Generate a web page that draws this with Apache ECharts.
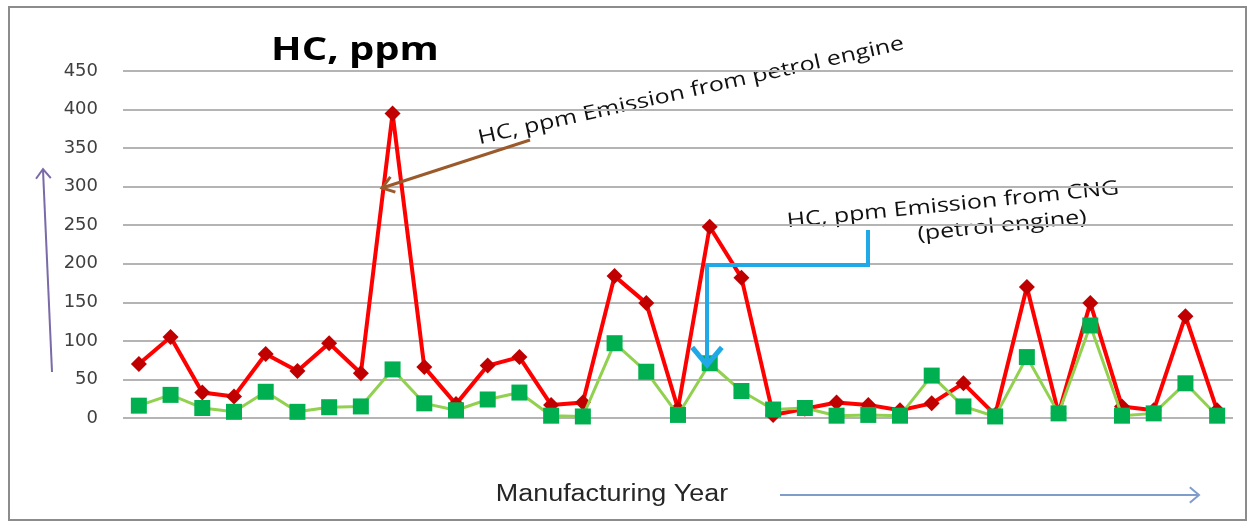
<!DOCTYPE html>
<html>
<head>
<meta charset="utf-8">
<script src="https://cdn.jsdelivr.net/npm/echarts@6/dist/echarts.min.js"></script>
<style>
html,body{margin:0;padding:0;background:#fff;}
#c{width:1255px;height:523px;}
</style>
</head>
<body>
<div id="c"></div>
<script>
var categories = ['1','2','3','4','5','6','7','8','9','10','11','12','13','14','15','16','17','18','19','20','21','22','23','24','25','26','27','28','29','30','31','32','33','34','35'];
var petrolHC = [70,105,33,28,83,61,97,58,395,66,18,68,79,17,20,184,149,12,248,182,4,12,20,17,10,19,45,4,170,6,149,15,10,132,10];
var cngHC    = [16,30,13,8,34,8,14,15,63,19,10,24,33,3,2,97,60,4,71,35,11,13,3,4,3,55,15,2,79,6,120,3,6,45,3];
var yTicks = {min:0, max:450, interval:50};

var chart = echarts.init(document.getElementById('c'), null, {renderer:'canvas'});

function arrowHead(x, y, angleDeg, len, spread, color, width) {
  var a = angleDeg * Math.PI / 180;
  var s = spread * Math.PI / 180;
  var p1 = [x - len * Math.cos(a - s), y - len * Math.sin(a - s)];
  var p2 = [x - len * Math.cos(a + s), y - len * Math.sin(a + s)];
  return {type:'polyline', silent:true, z:100,
    shape:{points:[p1,[x,y],p2]},
    style:{stroke:color, lineWidth:width, fill:null, lineJoin:'miter'}};
}

var option = {
  animation:false,
  backgroundColor:'#ffffff',
  grid:{left:123, right:22, top:71, bottom:105, containLabel:false},
  xAxis:{
    type:'category', data:categories, boundaryGap:true,
    axisLine:{show:false}, axisTick:{show:false}, axisLabel:{show:false},
    splitLine:{show:false}
  },
  yAxis:{
    type:'value', min:yTicks.min, max:yTicks.max, interval:yTicks.interval,
    axisLine:{show:false}, axisTick:{show:false},
    axisLabel:{color:'#404040', fontSize:18, fontFamily:'DejaVu Sans', margin:25},
    splitLine:{lineStyle:{color:'#b4b4b4', width:2}}
  },
  series:[
    {
      name:'HC, ppm Emission from petrol engine', type:'line', data:petrolHC,
      symbol:'diamond', symbolSize:16, z:3,
      lineStyle:{color:'#ff0000', width:4},
      itemStyle:{color:'#c00000'}
    },
    {
      name:'HC, ppm Emission from CNG (petrol engine)', type:'line', data:cngHC,
      symbol:'rect', symbolSize:16, z:4,
      lineStyle:{color:'#92d050', width:3},
      itemStyle:{color:'#00b050'}
    }
  ],
  graphic:[
    {type:'rect', silent:true, shape:{x:9, y:7, width:1237, height:513},
      style:{stroke:'#8c8c8c', lineWidth:2, fill:null}, z:0},
    {type:'text', silent:true, x:355, y:51, scaleX:1.25,
      style:{text:'HC, ppm', font:'bold 32px "Open Sans"', fill:'#000', align:'center', verticalAlign:'middle'}},
    {type:'text', silent:true, x:691, y:91, rotation:0.22, scaleX:1.25,
      style:{text:'HC, ppm Emission from petrol engine', font:'20px "Open Sans"', fill:'#111', align:'center', verticalAlign:'middle'}},
    {type:'polyline', silent:true, z:100, shape:{points:[[530,140],[382,188]]},
      style:{stroke:'#9b5a2b', lineWidth:3}},
    arrowHead(382,188,162,14,35,'#9b5a2b',3),
    {type:'text', silent:true, x:953, y:205, rotation:0.1, scaleX:1.25,
      style:{text:'HC, ppm Emission from CNG', font:'20px "Open Sans"', fill:'#111', align:'center', verticalAlign:'middle'}},
    {type:'text', silent:true, x:1002, y:226, rotation:0.1, scaleX:1.25,
      style:{text:'(petrol engine)', font:'20px "Open Sans"', fill:'#111', align:'center', verticalAlign:'middle'}},
    {type:'polyline', silent:true, z:100, shape:{points:[[868,230],[868,265],[707,265],[707,364]]},
      style:{stroke:'#1fa9e6', lineWidth:4, lineJoin:'miter'}},
    arrowHead(707,365,90,23,40,'#1fa9e6',5),
    {type:'polyline', silent:true, z:100, shape:{points:[[52,372],[43,170]]},
      style:{stroke:'#7a6aa8', lineWidth:2}},
    arrowHead(43,169,-92.5,12,38,'#7a6aa8',2),
    {type:'text', silent:true, x:612, y:495, scaleX:1.17,
      style:{text:'Manufacturing Year', font:'23px "Liberation Sans"', fill:'#262626', align:'center', verticalAlign:'middle'}},
    {type:'polyline', silent:true, z:100, shape:{points:[[780,495],[1198,495]]},
      style:{stroke:'#7f9ccb', lineWidth:2}},
    arrowHead(1199,495,0,12,40,'#7f9ccb',2)
  ]
};
chart.setOption(option);
</script>
</body>
</html>
